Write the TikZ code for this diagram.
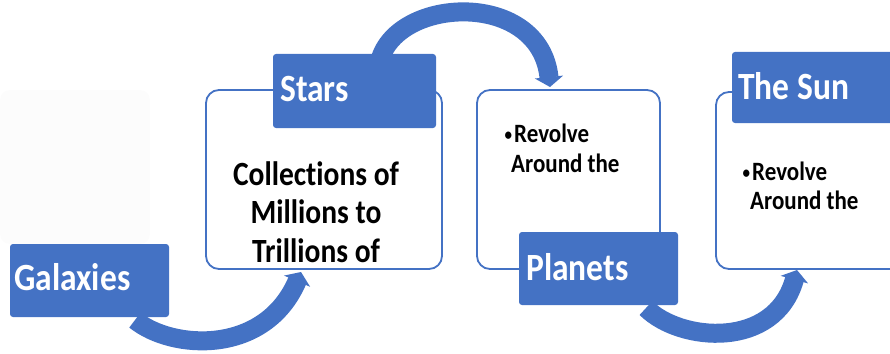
\documentclass[tikz,border=0pt]{standalone}
\usepackage{fontspec}
\setmainfont[RawFeature={-liga}]{Carlito}
\usetikzlibrary{arrows.meta,calc}
\definecolor{accent}{RGB}{68,114,196}
\definecolor{ghost}{RGB}{252,252,252}
\pgfdeclarelayer{under}
\pgfsetlayers{under,main}
% small bullet followed by the remaining width of a full bullet slot
\newcommand{\pointmark}{\makebox[11.5pt][c]{\fontsize{15}{18}\selectfont\raisebox{1.5pt}{•}}}
\begin{document}
\begin{tikzpicture}[x=1pt,y=-1pt,
  panel/.style n args={2}{draw=accent,line width=1.8pt,fill=white,rounded corners=13pt,
    minimum width=#1,minimum height=#2,anchor=north west,inner sep=0pt,outer sep=0pt},
  tab/.style n args={2}{fill=accent,rounded corners=3pt,
    minimum width=#1,minimum height=#2,anchor=north west,inner sep=0pt,outer sep=0pt},
  heading/.style={text=white,inner sep=0pt,anchor=base west,yscale=1.15,
    font=\fontsize{33.5}{40}\selectfont\bfseries},
  bodytext/.style={text=black,inner sep=0pt,anchor=base,yscale=1.15,
    font=\fontsize{29.5}{36}\selectfont\bfseries},
  pointtext/.style={text=black,inner sep=0pt,anchor=base west,yscale=1.15,
    font=\fontsize{23}{28}\selectfont\bfseries},
  flow/.style={draw=accent,line width=19pt,-{Triangle[width=28pt,length=10pt]}}
]
\useasboundingbox (0,0) rectangle (890,353);
\clip (0,0) rectangle (890,353);

% faint backdrop panel behind the first tab
\node[tab={150pt}{154pt},fill=ghost,rounded corners=10pt] (backdrop) at (0,90) {};

% content panels
\node[panel={236pt}{179pt}] (starsbox) at (206,90) {};
\node[panel={183pt}{179pt}] (planetsbox) at (477,90) {};
\node[panel={200pt}{177pt}] (sunbox) at (716,92) {};

% heading tabs
\node[tab={159pt}{73pt}] (galaxies) at (10,244) {};
\node[tab={163pt}{74pt}] (starstab) at (273,54) {};
\node[tab={159pt}{73pt}] (planetstab) at (519,232) {};
\node[tab={170pt}{71pt}] (suntab) at (732,52) {};

% heading labels
\node[heading] (galaxieslabel) at (14,290) {Galaxies};
\node[heading] (starslabel) at (280,101) {Stars};
\node[heading] (planetslabel) at (526,280) {Planets};
\node[heading] (sunlabel) at (738,99) {The Sun};

% panel texts
\node[bodytext] (starsline1) at (316,185) {Collections of};
\node[bodytext] (starsline2) at (316,223) {Millions to};
\node[bodytext] (starsline3) at (316,262) {Trillions of};

\node[pointtext] (planetsline1) at (502.5,142) {\pointmark Revolve};
\node[pointtext] (planetsline2) at (511,172) {Around the};

\node[pointtext] (sunline1) at (740.5,180) {\pointmark Revolve};
\node[pointtext] (sunline2) at (750,209) {Around the};

% bending connectors, kept underneath the tabs and panels
\coordinate (a1s) at ($(galaxies.south east)+(-34,3)$);
\coordinate (a1e) at ($(starsbox.south west)+(95,3)$);
\coordinate (a2s) at ($(starstab.north west)+(107,6)$);
\coordinate (a2e) at ($(planetsbox.north west)+(73,-3)$);
\coordinate (a3s) at ($(planetstab.south east)+(-32,3)$);
\coordinate (a3e) at ($(sunbox.south west)+(81,1)$);

\begin{pgfonlayer}{under}
\draw[flow] (a1s) .. controls (172,350) and (265,356) .. (a1e);
\draw[flow] (a2s) .. controls (398,-4) and (540,-10) .. (a2e);
\draw[flow] (a3s) .. controls (680,342) and (775,350) .. (a3e);
\end{pgfonlayer}
\end{tikzpicture}
\end{document}
